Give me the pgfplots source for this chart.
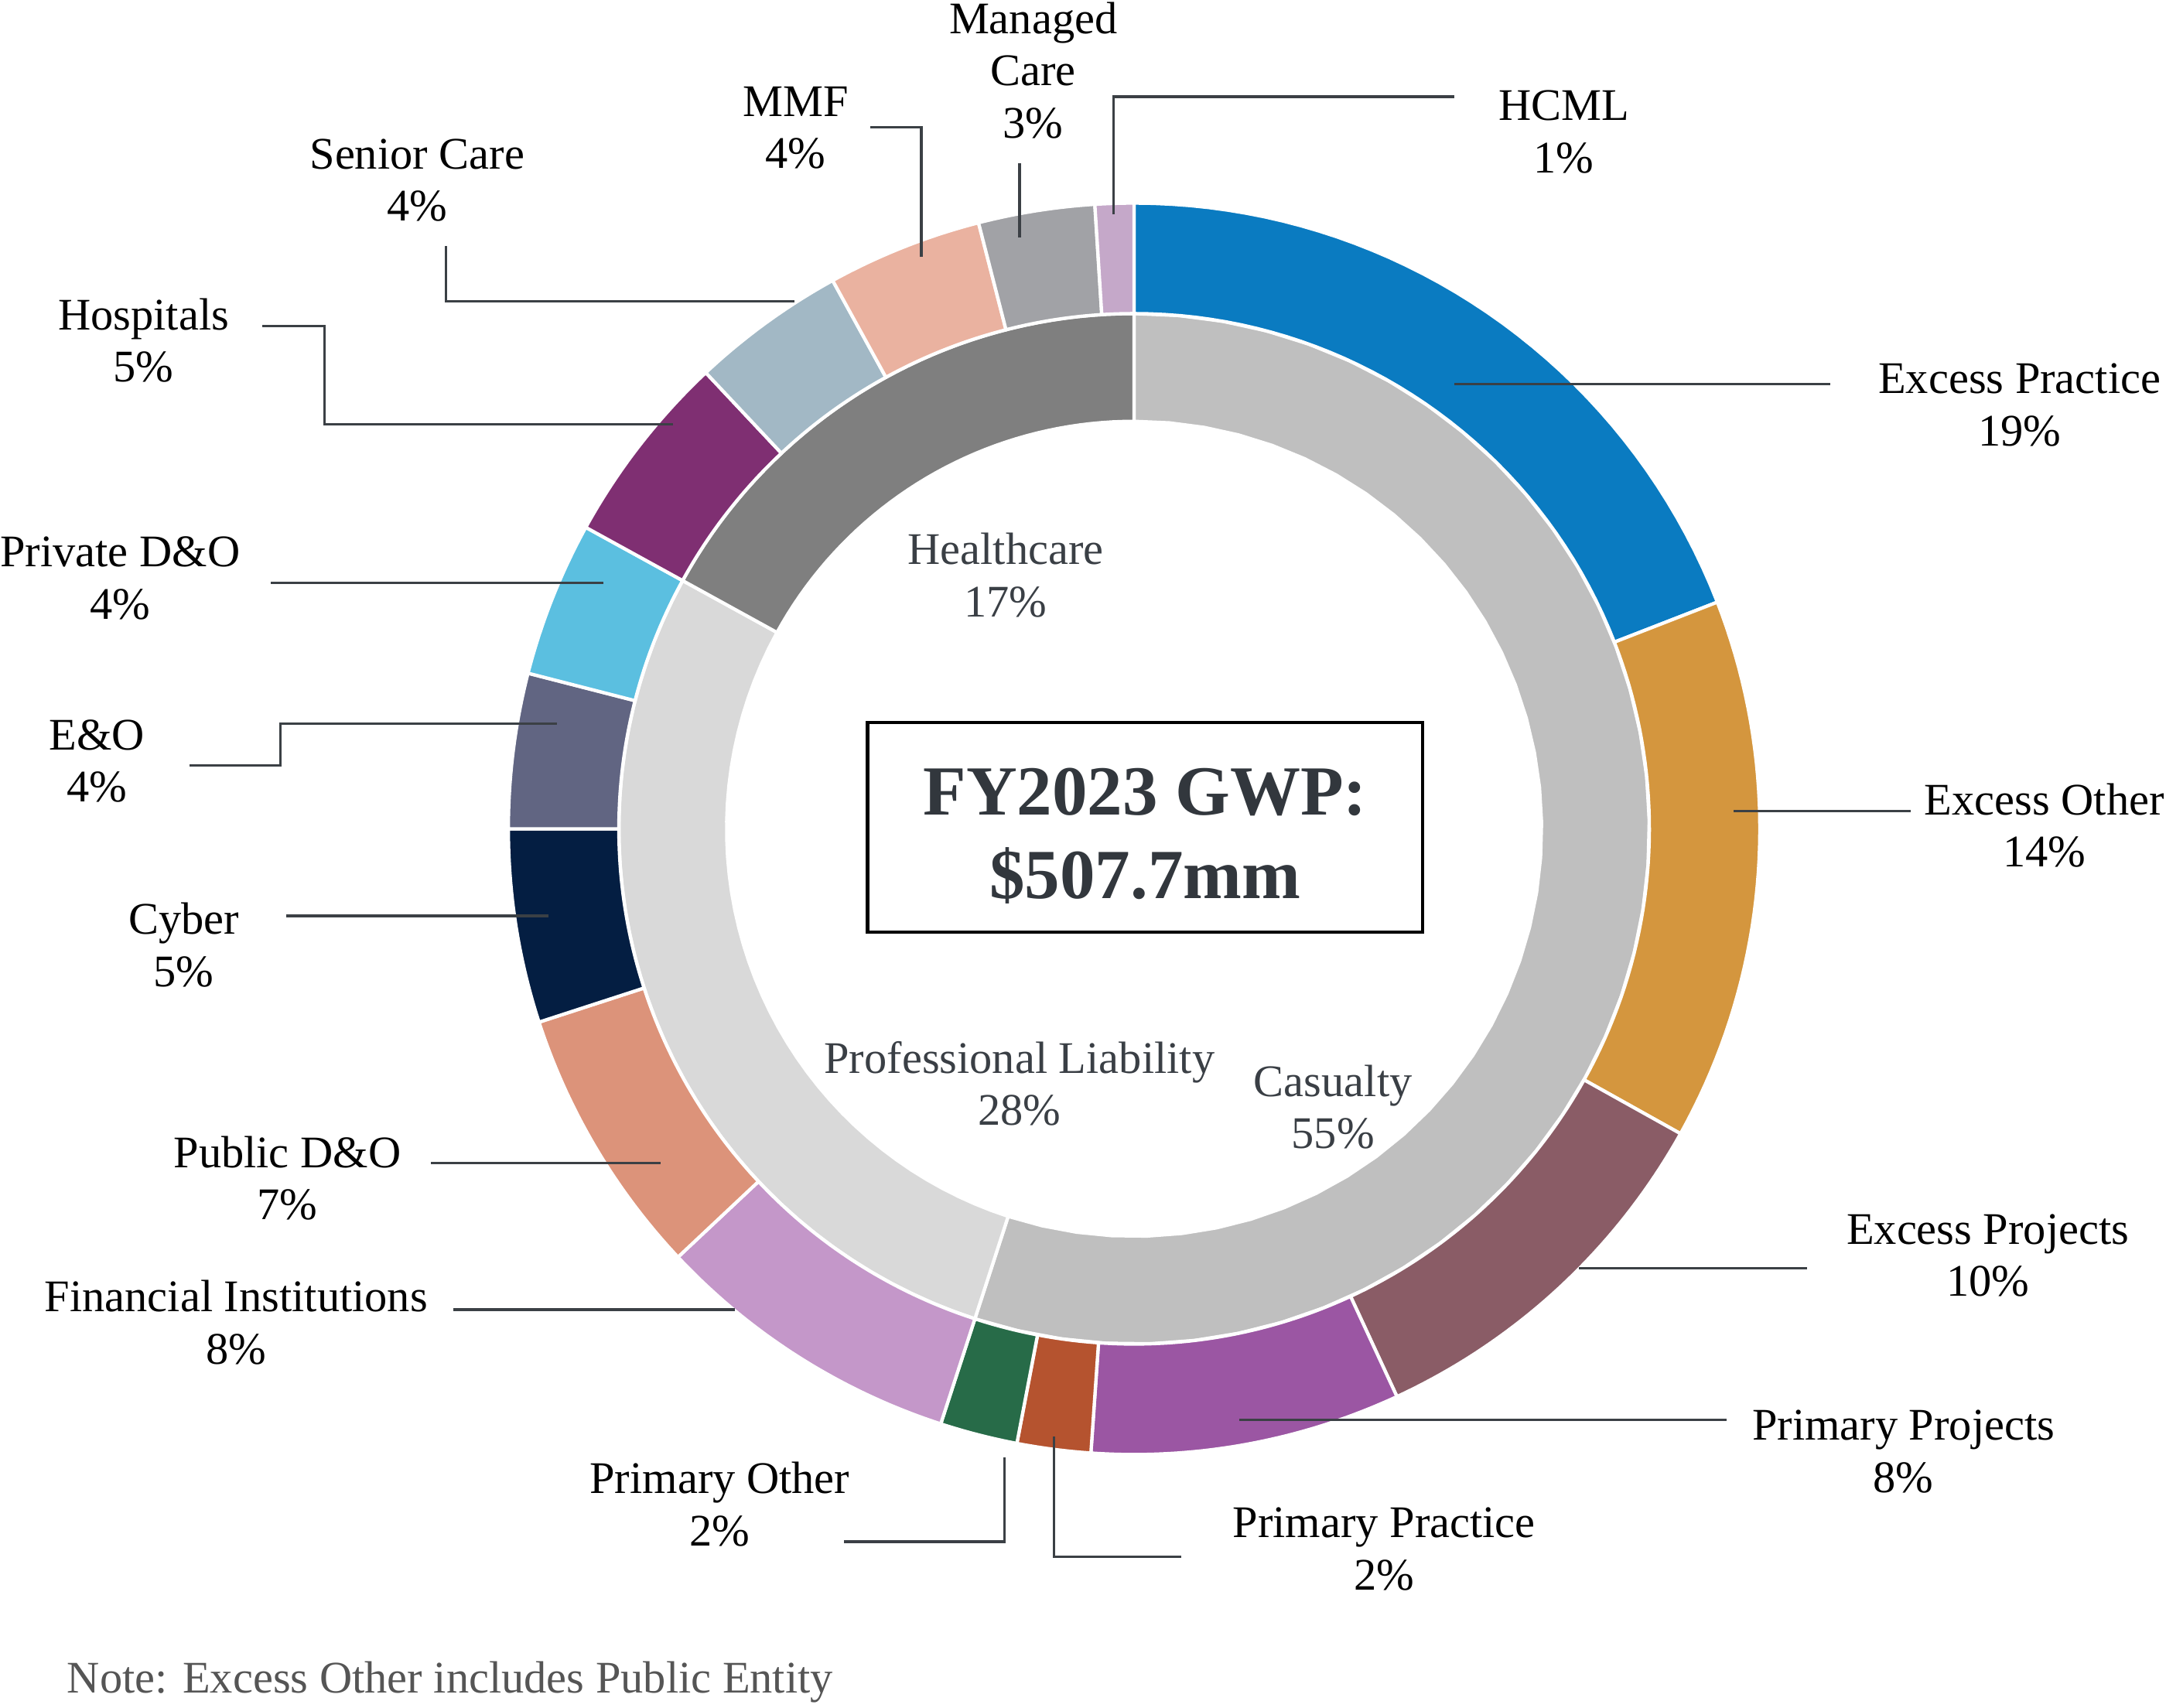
\documentclass[border=0pt]{standalone}
\usepackage{pgfplots}
\pgfplotsset{compat=1.18}
\usepackage{fontspec}
\setmainfont{Liberation Serif}

\definecolor{cExPr}{HTML}{0A7BC1}
\definecolor{cExOt}{HTML}{D4963E}
\definecolor{cExPj}{HTML}{8A5C66}
\definecolor{cPrPj}{HTML}{9B56A3}
\definecolor{cPrPr}{HTML}{B5532F}
\definecolor{cPrOt}{HTML}{276B48}
\definecolor{cFin}{HTML}{C497C9}
\definecolor{cPub}{HTML}{DC937A}
\definecolor{cCyb}{HTML}{041E42}
\definecolor{cEO}{HTML}{616582}
\definecolor{cPriv}{HTML}{5BBFE0}
\definecolor{cHosp}{HTML}{7F2F72}
\definecolor{cSen}{HTML}{A2B8C5}
\definecolor{cMMF}{HTML}{EAB2A0}
\definecolor{cMan}{HTML}{A1A2A6}
\definecolor{cHCML}{HTML}{C5A8C9}
\definecolor{cCas}{HTML}{BFBFBF}
\definecolor{cPL}{HTML}{D9D9D9}
\definecolor{cHC}{HTML}{7F7F7F}
\definecolor{leadc}{HTML}{3B4045}
\definecolor{titlec}{HTML}{32373D}
\definecolor{innerc}{HTML}{3A3F45}
\definecolor{notec}{HTML}{555555}

% share (percent), inner radius, outer radius, colour
\newcommand\slice[4]{%
  \pgfmathsetmacro\aS{\cum}%
  \pgfmathsetmacro\aE{\cum+#1}%
  \xdef\cum{\aE}%
  \addplot[fill=#4, draw=white, line width=0.7pt, line join=round,
           samples at={0,1,...,81}, variable=\t]
   ({(\t<40.5 ? #3 : #2)*cos(90-3.6*(\aS+(\aE-\aS)*(\t<40.5 ? \t/40 : (81-\t)/40)))},
    {(\t<40.5 ? #3 : #2)*sin(90-3.6*(\aS+(\aE-\aS)*(\t<40.5 ? \t/40 : (81-\t)/40)))}) -- cycle;
}

\begin{document}
\begin{tikzpicture}[
  lab/.style={align=center, font=\fontsize{9.5}{11}\selectfont, text=black, inner sep=0pt},
  inlab/.style={align=center, font=\fontsize{9.5}{11}\selectfont, text=innerc, inner sep=0pt},
  leader/.style={draw=leadc, line width=0.55pt, no marks}]
\begin{axis}[
  scale only axis, width=16cm, height=12.612cm,
  xmin=-821, xmax=747, ymin=-636, ymax=600,
  hide axis, clip=false]

% inner ring: segments
\gdef\cum{0}
\slice{55}{295}{373}{cCas}
\slice{28}{295}{373}{cPL}
\slice{17}{295}{373}{cHC}

% outer ring: lines of business (clockwise from top)
\gdef\cum{0}
\slice{19.1}{373}{453}{cExPr}
\slice{14.0}{373}{453}{cExOt}
\slice{10.0}{373}{453}{cExPj}
\slice{8.0}{373}{453}{cPrPj}
\slice{1.9}{373}{453}{cPrPr}
\slice{2.0}{373}{453}{cPrOt}
\slice{8.0}{373}{453}{cFin}
\slice{7.0}{373}{453}{cPub}
\slice{5.0}{373}{453}{cCyb}
\slice{4.0}{373}{453}{cEO}
\slice{4.0}{373}{453}{cPriv}
\slice{5.0}{373}{453}{cHosp}
\slice{4.0}{373}{453}{cSen}
\slice{4.0}{373}{453}{cMMF}
\slice{3.0}{373}{453}{cMan}
\slice{1.0}{373}{453}{cHCML}

% leader lines
\addplot[leader] coordinates {(-15,445) (-15,530) (232,530)};
\addplot[leader] coordinates {(-83,428) (-83,482)};
\addplot[leader] coordinates {(-154,414) (-154,508) (-191,508)};
\addplot[leader] coordinates {(-246,382) (-498,382) (-498,422)};
\addplot[leader] coordinates {(-334,293) (-586,293) (-586,364) (-631,364)};
\addplot[leader] coordinates {(-384,178) (-625,178)};
\addplot[leader] coordinates {(-418,76) (-618,76) (-618,46) (-684,46)};
\addplot[leader] coordinates {(-424,-63) (-614,-63)};
\addplot[leader] coordinates {(-343,-242) (-509,-242)};
\addplot[leader] coordinates {(-289,-348) (-493,-348)};
\addplot[leader] coordinates {(-94,-455) (-94,-516) (-210,-516)};
\addplot[leader] coordinates {(-58,-440) (-58,-527) (34,-527)};
\addplot[leader] coordinates {(76,-428) (429,-428)};
\addplot[leader] coordinates {(322,-318) (487,-318)};
\addplot[leader] coordinates {(434,13) (562,13)};
\addplot[leader] coordinates {(232,322) (504,322)};

% labels
\node[lab] at (311,504.5) {HCML\\1\%};
\node[lab] at (-73,549) {Managed\\Care\\3\%};
\node[lab] at (-245,507.5) {MMF\\4\%};
\node[lab] at (-519,469.5) {Senior Care\\4\%};
\node[lab] at (-717,353.5) {Hospitals\\5\%};
\node[lab] at (-734,181.5) {Private D\&O\\4\%};
\node[lab] at (-751,49) {E\&O\\4\%};
\node[lab] at (-688,-84) {Cyber\\5\%};
\node[lab] at (-613,-253) {Public D\&O\\7\%};
\node[lab] at (-650,-357.5) {Financial Institutions\\8\%};
\node[lab] at (-300,-489) {Primary Other\\2\%};
\node[lab] at (181,-521.5) {Primary Practice\\2\%};
\node[lab] at (557,-451) {Primary Projects\\8\%};
\node[lab] at (618,-309) {Excess Projects\\10\%};
\node[lab] at (659,2.5) {Excess Other\\14\%};
\node[lab] at (641,307) {Excess Practice\\19\%};

\node[inlab] at (-93,183.5) {Healthcare\\17\%};
\node[inlab] at (-83,-184.5) {Professional Liability\\28\%};
\node[inlab] at (144,-201.5) {Casualty\\55\%};

\node[draw=black, line width=0.7pt, minimum width=116.7pt, minimum height=44.1pt,
      inner sep=0pt] at (8,1) {};
\node[align=center, text=titlec, inner sep=0pt,
      font=\bfseries\fontsize{14.8}{17.6}\selectfont] at (8,-5) {FY2023 GWP:\\\$507.7mm};

\node[anchor=west, inner sep=0pt, text=notec, font=\fontsize{9.5}{11}\selectfont]
  at (-773,-618) {Note: Excess Other includes Public Entity};
\end{axis}
\pgfresetboundingbox
\path (current axis.south west) rectangle (current axis.north east);
\end{tikzpicture}
\end{document}
